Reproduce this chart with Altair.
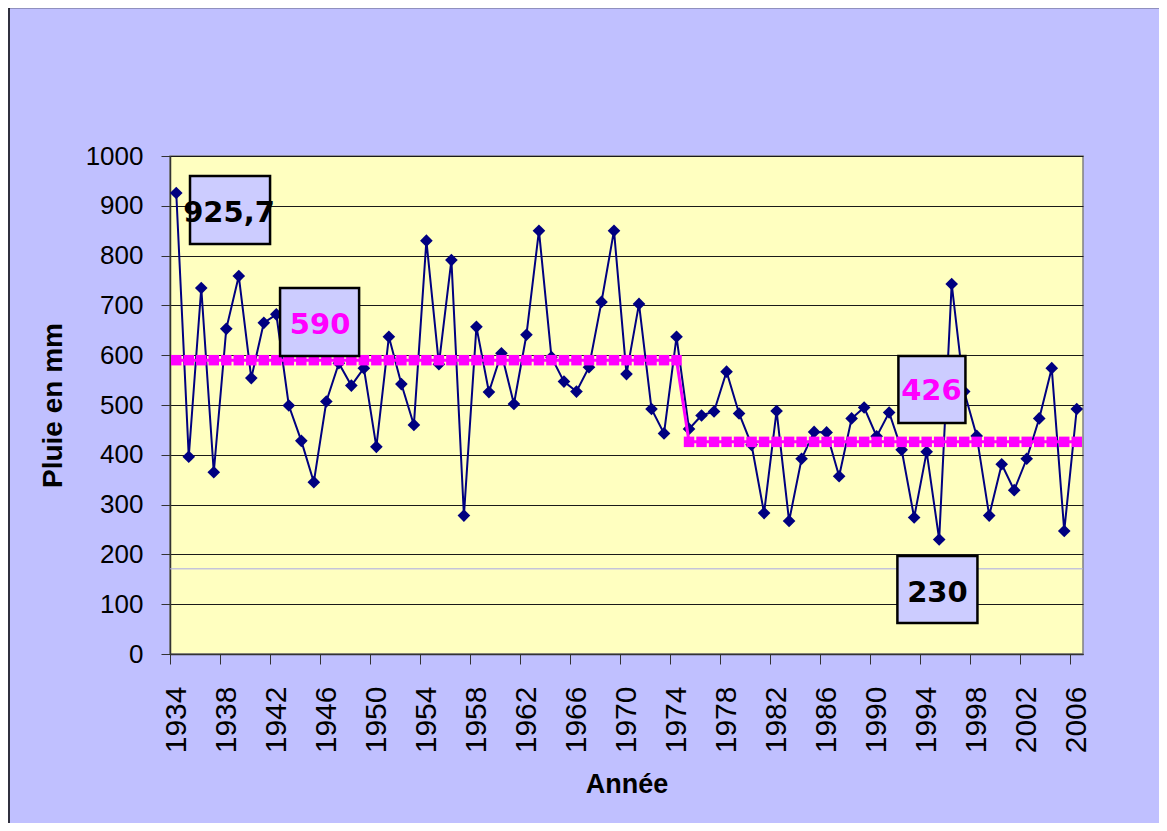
import altair as alt
import pandas as pd

# ---------------- data ----------------
years = list(range(1934, 2007))
rain = [925.7, 396, 735, 365, 653, 759, 554, 665, 682, 499,
        428, 345, 507, 584, 539, 574, 416, 637, 542, 460,
        830, 582, 791, 278, 657, 526, 604, 502, 641, 850,
        596, 547, 527, 576, 707, 850, 562, 703, 492, 443, 637,
        452, 479, 487, 567, 483, 420, 283, 488, 267, 392,
        446, 445, 357, 473, 495, 437,
        485, 410, 274, 406, 230, 743, 527, 438, 278, 381,
        329, 392, 473, 574, 247, 492]

# period means (start year, end year, mean in mm)
period_start = [1934, 1975]
period_end = [1974, 2006]
period_mean = [590, 426]

# annotation labels
ann_label = ["925,7", "590", "426", "230"]
ann_color = ["#000000", "#FF00FF", "#FF00FF", "#000000"]

# faint stray line seen in the plot area (mm)
stray_line = [171]

# ---------------- layout (box placement, in axis units) ----------------
box_x0 = [1935.1, 1942.3, 1991.74, 1991.66]
box_x1 = [1941.5, 1948.62, 1997.1, 1998.06]
box_y0 = [823.3, 598.4, 463.9, 62.2]
box_y1 = [959.8, 734.9, 598.4, 196.8]
txt_x = [1938.22, 1945.5, 1994.38, 1994.86]
txt_y = [887.6, 662.7, 530.1, 124.5]

W, H = 913, 498
FONT = "Liberation Sans"

df = pd.DataFrame({"year": years, "rain": rain})
mean_vals = []
for y in years:
    for s, e, m in zip(period_start, period_end, period_mean):
        if s <= y <= e:
            mean_vals.append(m)
mean_df = pd.DataFrame({"year": years, "mean": mean_vals})
ann_df = pd.DataFrame({"label": ann_label, "color": ann_color,
                       "x0": box_x0, "x1": box_x1, "y0": box_y0, "y1": box_y1,
                       "tx": txt_x, "ty": txt_y})
stray_df = pd.DataFrame({"v": stray_line})

xscale = alt.Scale(domain=[1933.5, 2006.5], nice=False, zero=False)
yscale = alt.Scale(domain=[0, 1000], nice=False, zero=True)

xaxis = alt.Axis(
    values=[1933.5 + i for i in range(74)],
    labelExpr="(datum.value + 0.5 - 1934) % 4 == 0 ? format(datum.value + 0.5, 'd') : ''",
    labelOffset=6.25, labelAngle=270, labelFontSize=30, labelFont=FONT,
    labelColor="#000000", labelPadding=22, labelFlush=False, labelOverlap=False,
    labelBound=False, tickSize=10, tickColor="#333333", tickWidth=1,
    domainColor="#333333", domainWidth=1.5, grid=False,
    title="Année", titleFont=FONT, titleFontSize=27, titleFontWeight="bold",
    titleColor="#000000", titlePadding=19,
)
yaxis = alt.Axis(
    values=list(range(0, 1001, 100)), format="d",
    labelFontSize=26, labelFont=FONT, labelColor="#000000", labelPadding=18,
    tickSize=9, tickColor="#333333", domainColor="#333333", domainWidth=1.5,
    grid=True, gridColor="#1a1a1a", gridWidth=1,
    title="Pluie en mm", titleFont=FONT, titleFontSize=28, titleFontWeight="bold",
    titleColor="#000000", titlePadding=18,
)

rain_line = alt.Chart(df).mark_line(
    color="#000080", strokeWidth=2,
    point=alt.OverlayMarkDef(shape="diamond", size=160, filled=True,
                             color="#000080", opacity=1),
).encode(
    x=alt.X("year:Q", scale=xscale, axis=xaxis),
    y=alt.Y("rain:Q", scale=yscale, axis=yaxis),
)

stray = alt.Chart(stray_df).mark_rule(color="#A8A8E8", strokeWidth=1).encode(
    y=alt.Y("v:Q", scale=yscale)
)

mean_line = alt.Chart(mean_df).mark_line(
    color="#FF00FF", strokeWidth=3,
    point=alt.OverlayMarkDef(shape="square", size=110, filled=True,
                             color="#FF00FF", opacity=1),
).encode(
    x=alt.X("year:Q", scale=xscale),
    y=alt.Y("mean:Q", scale=yscale),
)

boxes = alt.Chart(ann_df).mark_rect(
    fill="#CCCCFF", stroke="#000000", strokeWidth=2.5
).encode(
    x=alt.X("x0:Q", scale=xscale), x2="x1",
    y=alt.Y("y0:Q", scale=yscale), y2="y1",
)

texts = alt.Chart(ann_df).mark_text(
    font="DejaVu Sans", fontSize=29, fontWeight="bold", align="center",
    baseline="middle", dy=1
).encode(
    x=alt.X("tx:Q", scale=xscale),
    y=alt.Y("ty:Q", scale=yscale),
    text="label:N",
    color=alt.Color("color:N", scale=None),
)

frame = alt.Chart(pd.DataFrame({"a": [0]})).mark_rect(
    fillOpacity=0, fill="#ffffff", stroke="#000000", strokeWidth=1.5
).encode(
    x=alt.value(-161), x2=alt.value(W + 90),
    y=alt.value(-148.5), y2=alt.value(H + 190),
)

chart = alt.layer(rain_line, stray, mean_line, boxes, texts, frame).properties(
    width=W, height=H,
    autosize=alt.AutoSizeParams(type="none"),
    padding={"left": 162, "top": 148, "right": 76, "bottom": 169},
    background="#C0C0FF",
).configure(font=FONT).configure_view(
    fill="#FFFFC0", stroke="#808080", strokeWidth=1.5
)

chart.save("out.html", embed_options={"renderer": "svg", "actions": False})
